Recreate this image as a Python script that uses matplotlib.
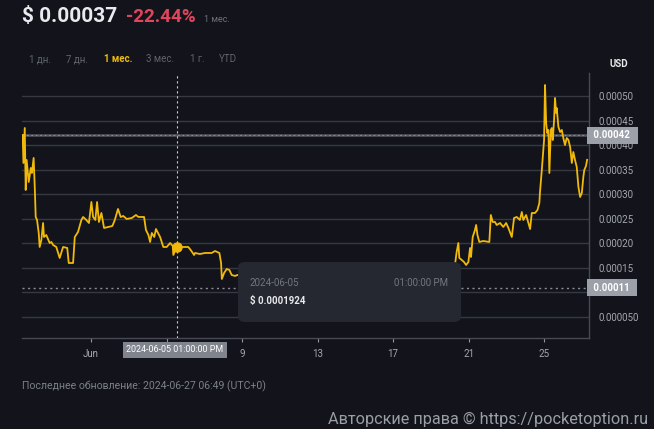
import matplotlib
matplotlib.use("Agg")
import matplotlib.pyplot as plt
from matplotlib.patches import FancyBboxPatch
from matplotlib.transforms import blended_transform_factory

# ---- data: time in days since 2024-06-01 00:00, price in USD ----
days = [-3.62, -3.58, -3.51, -3.46, -3.41, -3.30, -3.19, -3.13, -3.04, -2.98,
        -2.93, -2.86, -2.77, -2.72, -2.63, -2.54, -2.49, -2.37, -2.19, -2.10,
        -2.01, -1.84, -1.66, -1.48, -1.26, -1.18, -0.95, -0.86, -0.69, -0.51,
        -0.42, -0.25, -0.11, 0.02, 0.11, 0.23, 0.32, 0.42, 0.55, 0.69,
        0.90, 1.13, 1.26, 1.43, 1.57, 1.71, 1.89, 2.16, 2.38, 2.51,
        2.81, 2.91, 3.04, 3.13, 3.22, 3.35, 3.44, 3.66, 3.83, 4.01,
        4.19, 4.33, 4.36, 4.54, 4.72, 5.15, 5.28, 5.46, 5.51, 5.77,
        6.04, 6.39, 6.57, 6.80, 6.89, 6.93, 7.05, 7.19, 7.33, 7.45,
        7.63, 7.75, 8.20, 8.80, 9.30, 10.00, 10.60, 11.20, 11.90, 12.50,
        13.20, 13.80, 14.50, 15.10, 15.80, 16.40, 17.00, 17.60, 18.20, 18.80,
        19.25, 19.37, 19.46, 19.51, 19.64, 19.76, 19.87, 19.99, 20.08, 20.13,
        20.22, 20.34, 20.40, 20.47, 20.57, 20.78, 21.10, 21.18, 21.28, 21.40,
        21.49, 21.67, 21.84, 21.99, 22.11, 22.29, 22.41, 22.55, 22.72, 22.82,
        22.90, 23.05, 23.26, 23.35, 23.52, 23.65, 23.75, 23.78, 23.88, 23.93,
        24.00, 24.05, 24.11, 24.17, 24.23, 24.28, 24.36, 24.41, 24.46, 24.53,
        24.58, 24.64, 24.67, 24.76, 24.85, 24.94, 25.02, 25.11, 25.20, 25.29,
        25.38, 25.47, 25.55, 25.64, 25.73, 25.82, 25.91, 26.00, 26.08, 26.13,
        26.22, 26.28]

prices_e5 = [42.06, 36.36, 43.48, 30.86, 36.97, 32.49, 35.34, 34.32, 37.38, 31.47,
             25.37, 24.76, 22.11, 19.26, 20.68, 24.14, 21.29, 21.70, 20.07, 20.28,
             19.67, 19.26, 17.02, 19.26, 19.06, 16.00, 16.00, 21.29, 22.31, 24.76,
             25.37, 24.76, 24.14, 28.42, 25.37, 24.76, 28.42, 24.35, 26.18, 23.13,
             23.33, 23.53, 24.76, 27.00, 25.37, 25.57, 24.96, 25.16, 25.77, 25.37,
             25.37, 22.72, 21.70, 20.28, 22.11, 21.29, 22.92, 21.29, 19.26, 19.26,
             20.07, 19.46, 17.63, 19.24, 19.26, 19.26, 18.65, 17.63, 18.04, 17.83,
             18.04, 18.04, 18.44, 18.04, 16.00, 12.74, 13.97, 14.78, 14.58, 13.56,
             13.36, 13.56, 13.20, 12.60, 13.00, 12.20, 12.80, 11.90, 12.40, 11.60,
             12.10, 11.40, 11.90, 11.20, 11.70, 11.10, 12.00, 11.50, 12.30, 12.90,
             14.80, 18.24, 20.07, 17.02, 16.61, 16.20, 15.59, 16.20, 19.06, 17.22,
             21.29, 22.72, 23.74, 21.70, 20.28, 20.48, 20.28, 25.77, 24.35, 24.35,
             23.74, 24.14, 23.33, 24.14, 23.13, 21.29, 25.16, 25.37, 24.76, 26.38,
             24.76, 25.77, 22.92, 26.18, 26.18, 26.79, 28.22, 30.25, 34.93, 37.58,
             41.04, 52.24, 44.50, 42.47, 43.08, 34.32, 43.08, 43.48, 41.04, 45.11,
             49.59, 46.54, 47.56, 43.69, 42.67, 43.08, 41.45, 40.02, 41.45, 41.04,
             39.62, 36.36, 38.60, 36.97, 35.55, 31.47, 29.44, 30.25, 33.51, 34.93,
             35.75, 37.00]
prices = [p * 1e-5 for p in prices_e5]

y_ticks = [0.00005, 0.00010, 0.00015, 0.00020, 0.00025, 0.00030, 0.00035,
           0.00040, 0.00045, 0.00050]
# the 0.00010 label sits under the low-price badge
y_tick_labels = ["0.000050", "", "0.00015", "0.00020", "0.00025",
                 "0.00030", "0.00035", "0.00040", "0.00045", "0.00050"]
x_ticks = [0, 4, 8, 12, 16, 20, 24]
# the "5" label sits under the crosshair date badge
x_tick_labels = ["Jun", "", "9", "13", "17", "21", "25"]

ref_high = 0.00042
ref_low = 0.00011
cursor_day = 4.54
cursor_price = 0.0001924
last_price = "$ 0.00037"
change = "-22.44%"
tabs = ["1 дн.", "7 дн.", "1 мес.", "3 мес.", "1 г.", "YTD"]

# ---- style ----
BG = "#13141b"
GRID = "#363941"
AXIS = "#474a52"
YELLOW = "#f0b90b"
W, H = 654, 429
FONT = ["Roboto", "DejaVu Sans"]
plt.rcParams["font.family"] = FONT

fig = plt.figure(figsize=(W / 100, H / 100), dpi=100, facecolor=BG)


def fx(px):
    return px / W


def fy(py):
    return 1 - py / H


ax = fig.add_axes([fx(22), fy(338), fx(589) - fx(22), fy(73) - fy(338)])
ax.set_facecolor(BG)
ax.set_xlim(-3.656, 26.38)
ax.set_ylim(0.0000073, 0.0005468)

for s in ("left", "top"):
    ax.spines[s].set_visible(False)
for s in ("bottom", "right"):
    ax.spines[s].set_color(AXIS)
    ax.spines[s].set_linewidth(1.0)

for v in y_ticks:
    ax.axhline(v, color=GRID, lw=1.0, zorder=1)

ax.yaxis.tick_right()
ax.set_yticks(y_ticks)
ax.set_yticklabels(y_tick_labels)
ax.tick_params(axis="y", length=0, pad=6.5, labelsize=7, labelcolor="#a3a7af")
ax.set_xticks(x_ticks)
ax.set_xticklabels(x_tick_labels)
ax.tick_params(axis="x", length=3, width=0.8, color="#8e939c", pad=5,
               labelsize=7, labelcolor="#a3a7af")

# reference lines
ax.axhline(ref_high, color="#55585f", lw=1.8, zorder=2)
ax.axhline(ref_high, color="#8a8e96", lw=0.8, ls=(0, (1.5, 2.5)), zorder=2)
ax.axhline(ref_low, color="#8a8e96", lw=1.0, ls=(0, (1.5, 2.5)), zorder=2)

# price line
ax.plot(days, prices, color=YELLOW, lw=1.3, zorder=4, solid_joinstyle="round")

# crosshair
ax.axvline(cursor_day, color="#c9ccd3", lw=0.8, ls=(0, (2, 2.5)), zorder=5)
ax.plot([cursor_day], [cursor_price], "o", ms=6.5, color=YELLOW, zorder=6)

# right-side price badges
btr = blended_transform_factory(ax.transAxes, ax.transData)
for v, lab in ((ref_high, "0.00042"), (ref_low, "0.00011")):
    ax.text(1.003, v, " " + lab + "  ", transform=btr, ha="left", va="center",
            fontsize=7, color="white", fontweight="bold", clip_on=False, zorder=8,
            bbox=dict(boxstyle="square,pad=0.35", fc="#9ca0a8", ec="none"))

# crosshair date badge
ax.text(cursor_day - 0.1, -0.045, "2024-06-05 01:00:00 PM",
        transform=ax.get_xaxis_transform(),
        ha="center", va="center", fontsize=6.4, color="white", clip_on=False, zorder=8,
        bbox=dict(boxstyle="square,pad=0.35", fc="#7f848d", ec="none"))

# tooltip
tip = FancyBboxPatch((fx(238), fy(322)), fx(461) - fx(238), fy(262) - fy(322),
                     boxstyle="round,pad=0,rounding_size=0.012",
                     transform=fig.transFigure, fc="#252830", ec="none", zorder=10)
fig.patches.append(tip)
fig.text(fx(250), fy(283), "2024-06-05", fontsize=7, color="#71767f", va="center", zorder=11)
fig.text(fx(448), fy(283), "01:00:00 PM", fontsize=7, color="#71767f", va="center",
         ha="right", zorder=11)
fig.text(fx(250), fy(301), "$ 0.0001924", fontsize=7, color="#e8e9ec", va="center",
         fontweight="bold", zorder=11)

# header
fig.text(fx(22), fy(17), last_price, fontsize=15, fontweight="bold", color="#e9eaed",
         va="center")
fig.text(fx(126), fy(17), change, fontsize=13.5, fontweight="bold", color="#e0455b",
         va="center")
fig.text(fx(204), fy(20), "1 мес.", fontsize=6.5, color="#6c717a", va="center")

tab_x = [29, 66, 104, 146, 190, 219]
for t, x in zip(tabs, tab_x):
    active = t == "1 мес."
    fig.text(fx(x), fy(59), t, fontsize=7, va="center",
             color=YELLOW if active else "#5f646d",
             fontweight="bold" if active else "normal")

fig.text(fx(609), fy(64), "USD", fontsize=7, fontweight="bold", color="#e8e9ec",
         va="center")

# footer
fig.text(fx(22), fy(386), "Последнее обновление: 2024-06-27 06:49 (UTC+0)",
         fontsize=7.6, color="#7b8089", va="center")
fig.text(fx(648), fy(419), "Авторские права © https://pocketoption.ru",
         fontsize=11.7, color="#9a9ea6", va="center", ha="right")

fig.savefig("out.png", dpi=100, facecolor=BG)
